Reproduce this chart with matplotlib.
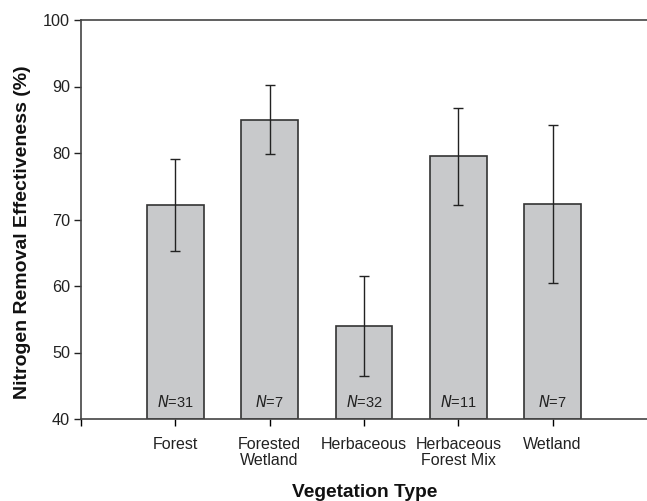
import matplotlib
matplotlib.use("Agg")
import matplotlib.pyplot as plt

categories = ["Forest", "Forested\nWetland", "Herbaceous", "Herbaceous\nForest Mix", "Wetland"]
means = [72.2, 85.0, 54.0, 79.5, 72.3]
upper = [79.1, 90.2, 61.5, 86.8, 84.2]
lower = [65.3, 79.8, 46.5, 72.2, 60.4]
n_values = [31, 7, 32, 11, 7]

plt.rcParams['font.family'] = ['Liberation Sans', 'DejaVu Sans']

W, H = 647, 501
fig = plt.figure(figsize=(W / 100, H / 100), dpi=100)
ax = fig.add_axes([81 / W, 82 / H, 1 - 81 / W, 399 / H])

x = list(range(1, len(categories) + 1))
err_lo = [m - l for m, l in zip(means, lower)]
err_hi = [u - m for m, u in zip(means, upper)]

ax.bar(x, [m - 40 for m in means], bottom=40, width=0.6, color='#c8c9cb',
       edgecolor='#333333', linewidth=1.2, zorder=2)
ax.errorbar(x, means, yerr=[err_lo, err_hi], fmt='none', ecolor='#222222',
            elinewidth=1.0, capsize=3.6, capthick=1.0, zorder=3)

for xi, n in zip(x, n_values):
    ax.text(xi, 42.6, r"$\it{N}$" + f"={n}", ha='center', va='center', fontsize=10.5,
            color='#222222', zorder=4)

ax.set_xlim(0, 6)
ax.set_ylim(40, 100)
ax.set_yticks(range(40, 101, 10))
ax.set_xticks(x)
ax.set_xticklabels(categories, fontsize=11.5, color='#222222', linespacing=1.08)
ax.set_xticks([0], minor=True)
ax.tick_params(axis='y', labelsize=11.7, colors='#222222', direction='out', length=5, width=1, pad=3)
ax.tick_params(axis='x', which='major', direction='out', length=5, width=1, pad=8)
ax.tick_params(axis='x', which='minor', direction='out', length=5, width=1)

for s in ['left', 'bottom', 'top']:
    ax.spines[s].set_color('#444444')
    ax.spines[s].set_linewidth(1.2)
ax.spines['right'].set_visible(False)

fig.text(23 / W, 1 - 232 / H, "Nitrogen Removal Effectiveness (%)", rotation=90,
         ha='center', va='center', fontsize=14, fontweight='bold', color='#111111')
fig.text(365 / W, 4 / H, "Vegetation Type", ha='center', va='baseline',
         fontsize=13.8, fontweight='bold', color='#111111')

fig.savefig("out.png", dpi=100)
